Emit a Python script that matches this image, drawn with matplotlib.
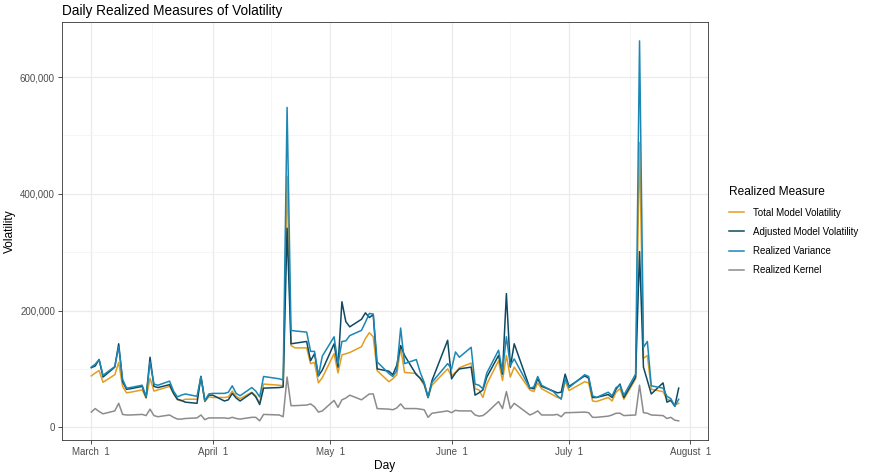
import numpy as np
import pandas as pd
import matplotlib
matplotlib.use("Agg")
import matplotlib.pyplot as plt
import matplotlib.dates as mdates
from matplotlib.ticker import FuncFormatter

plt.rcParams['font.family'] = ['Liberation Sans', 'DejaVu Sans']

# trading days, Mar 1 - Jul 29 2022 (market holidays dropped)
holidays = ["2022-04-15", "2022-05-30", "2022-06-20", "2022-07-04"]
days = pd.bdate_range("2022-03-01", "2022-07-29")
days = days[~days.isin(pd.to_datetime(holidays))]

# values in thousands
total_model = [
    88, 93, 97, 77, 90, 111, 70, 59, 60, 64, 50, 84, 62, 64, 70, 58, 47, 45, 48, 48, 87, 44, 52,
    51, 51, 52, 62, 53, 49, 60, 54, 41, 74, 72, 71, 430, 140, 136, 136, 109, 111, 76, 85,
    126, 93, 124, 126, 128, 138, 152, 162, 155, 97, 78, 83, 90, 136, 94, 92, 83, 72, 51, 72, 100,
    88, 94, 102, 110, 66, 64, 51, 74, 114, 80, 123, 86, 103, 64, 61, 76, 66, 55, 51, 50, 79,
    63, 78, 76, 45, 44, 51, 45, 60, 66, 48, 83, 488, 118, 123, 65, 61, 48, 46, 38, 41,
]
adjusted_model = [
    102, 105, 116, 86, 103, 143, 78, 65, 66, 70, 51, 120, 70, 68, 73, 58, 48, 46, 43, 41, 87, 45, 55,
    55, 45, 47, 58, 50, 45, 59, 52, 39, 67, 68, 69, 341, 143, 144, 147, 114, 126, 88, 98,
    143, 103, 215, 181, 172, 185, 196, 188, 193, 100, 96, 90, 106, 140, 123, 90, 84, 75, 51, 80, 149,
    83, 93, 100, 103, 55, 59, 64, 86, 123, 91, 229, 103, 143, 67, 66, 83, 70, 62, 59, 60, 91,
    70, 88, 84, 51, 51, 56, 51, 65, 74, 51, 86, 301, 103, 80, 57, 76, 43, 46, 36, 67,
]
realized_var = [
    103, 108, 116, 89, 104, 138, 82, 67, 68, 72, 52, 112, 74, 72, 79, 62, 52, 55, 57, 53, 87, 45, 57,
    58, 58, 60, 71, 58, 54, 68, 62, 52, 87, 83, 81, 548, 166, 165, 163, 130, 130, 88, 122,
    155, 109, 147, 148, 157, 166, 180, 195, 194, 112, 92, 87, 97, 170, 109, 116, 94, 77, 51, 77, 109,
    100, 129, 120, 137, 74, 72, 66, 93, 132, 95, 155, 106, 117, 67, 69, 87, 72, 61, 54, 48, 84,
    68, 90, 87, 54, 51, 60, 54, 68, 72, 55, 91, 662, 137, 147, 71, 67, 53, 49, 36, 48,
]
realized_kernel = [
    26, 32, 27, 23, 28, 41, 22, 21, 21, 22, 20, 31, 20, 18, 21, 17, 14, 14, 15, 16, 21, 13, 16,
    16, 16, 15, 17, 15, 14, 17, 17, 11, 22, 21, 18, 86, 37, 37, 38, 40, 35, 26, 28,
    46, 34, 47, 50, 55, 47, 52, 57, 57, 32, 31, 30, 33, 40, 32, 32, 31, 30, 17, 24, 28,
    25, 29, 28, 28, 21, 19, 20, 25, 44, 32, 61, 32, 41, 21, 24, 28, 21, 21, 22, 18, 25,
    25, 26, 25, 17, 17, 19, 21, 24, 24, 20, 21, 72, 25, 24, 21, 20, 15, 17, 12, 11,
]

labels = ["Total Model Volatility", "Adjusted Model Volatility", "Realized Variance", "Realized Kernel"]
colors = ["#E39E21", "#0E4A63", "#1A87B5", "#8C8C8C"]
series = [total_model, adjusted_model, realized_var, realized_kernel]

fig, ax = plt.subplots(figsize=(8.72, 4.76), dpi=100)
fig.subplots_adjust(left=0.071, right=0.812, top=0.954, bottom=0.076)

for vals, lab, col in zip(series, labels, colors):
    ax.plot(days, np.array(vals) * 1000, color=col, lw=1.1, label=lab)

# grid like theme_bw
month_starts = pd.to_datetime(["2022-03-01", "2022-04-01", "2022-05-01", "2022-06-01", "2022-07-01", "2022-08-01"])
mids = month_starts[:-1] + (month_starts[1:] - month_starts[:-1]) / 2
ax.set_xticks(month_starts)
ax.set_xticks(mids, minor=True)
ax.xaxis.set_major_formatter(FuncFormatter(lambda v, p: "{:%B} {:2d}".format(mdates.num2date(v), mdates.num2date(v).day)))
ax.set_yticks([0, 200000, 400000, 600000])
ax.set_yticks([100000, 300000, 500000], minor=True)
ax.yaxis.set_major_formatter(FuncFormatter(lambda v, p: f"{v:,.0f}"))
ax.grid(which="major", color="#EBEBEB", lw=0.9)
ax.grid(which="minor", color="#F2F2F2", lw=0.5)
ax.set_axisbelow(True)
ax.tick_params(which="minor", length=0)
ax.tick_params(which="major", length=3, width=0.6, color="#333333", labelcolor="#4D4D4D", labelsize=7, pad=2)
for s in ax.spines.values():
    s.set_color("#333333")
    s.set_linewidth(0.6)

ax.set_title("Daily Realized Measures of Volatility", loc="left", fontsize=9.8, pad=5)
ax.set_xlabel("Day", fontsize=8.6, labelpad=2)
ax.set_ylabel("Volatility", fontsize=8.6, labelpad=3)

ax.legend(title="Realized Measure", loc="center left", bbox_to_anchor=(1.032, 0.5),
          frameon=False, fontsize=7, title_fontsize=8.6, handlelength=1.6,
          handletextpad=0.9, labelspacing=0.95, borderpad=0, borderaxespad=0,
          alignment="left")

fig.savefig("out.png", dpi=100)
